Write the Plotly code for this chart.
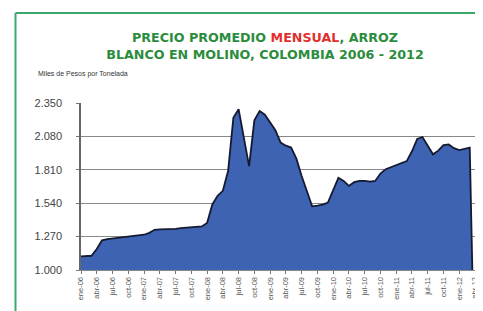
import plotly.graph_objects as go

months = ["ene", "feb", "mar", "abr", "may", "jun", "jul", "ago", "sep", "oct", "nov", "dic"]
categories = [f"{m}-{y:02d}" for y in range(6, 13) for m in months][:76]

prices = [
    1110, 1110, 1115, 1170, 1240, 1250, 1255, 1265, 1270, 1275, 1278, 1280,   # 2006
    1285, 1300, 1325, 1328, 1328, 1330, 1333, 1338, 1342, 1345, 1350, 1352,   # 2007
    1380, 1530, 1600, 1640, 1800, 2230, 2300, 2080, 1840, 2210, 2285, 2255,   # 2008
    2190, 2130, 2030, 2005, 1990, 1900, 1760, 1640, 1515, 1520, 1528, 1545,   # 2009
    1650, 1745, 1720, 1680, 1710, 1720, 1720, 1715, 1720, 1780, 1815, 1830,   # 2010
    1845, 1860, 1880, 1960, 2060, 2075, 2010, 1935, 1965, 2010, 2015, 1985,   # 2011
    1970, 1980, 1990, 0,                                                      # 2012
]

tick_labels = categories[::3]
y_ticks = [1000, 1270, 1540, 1810, 2080, 2350]
y_tick_text = ["1.000", "1.270", "1.540", "1.810", "2.080", "2.350"]

fig = go.Figure()
fig.add_trace(go.Scatter(
    x=categories, y=prices, mode="lines",
    fill="tozeroy", fillcolor="#3d63b2",
    line=dict(color="#141a30", width=1.8),
    hoverinfo="skip", showlegend=False,
))

W, H = 483, 311
L, R, T, B = 73, 470, 95, 262

fig.update_layout(
    width=W, height=H,
    margin=dict(l=L, r=W - R, t=T, b=H - B, pad=0),
    paper_bgcolor="white", plot_bgcolor="white",
    font=dict(family="Liberation Sans, Arial, sans-serif", color="#333"),
    showlegend=False,
    title=dict(
        text=("PRECIO PROMEDIO <span style='color:#e0302e'>MENSUAL</span>, ARROZ"
              "<br>BLANCO EN MOLINO, COLOMBIA 2006 - 2012"),
        x=257 / W, xanchor="center", xref="container",
        y=1 - 34 / H, yanchor="middle", yref="container",
        font=dict(size=12.7, color="#2b8c3c", weight="bold",
                  family="DejaVu Sans, Arial, sans-serif"),
    ),
    xaxis=dict(
        type="category",
        range=[0, len(categories) - 1],
        tickmode="array", tickvals=tick_labels, ticktext=tick_labels,
        tickangle=-90, tickfont=dict(size=7.5, color="#555"),
        ticks="outside", ticklen=3, tickcolor="#777",
        showgrid=False, showline=True, linecolor="#888", linewidth=1,
        zeroline=False,
    ),
    yaxis=dict(
        range=[1000, 2350],
        tickmode="array", tickvals=y_ticks, ticktext=y_tick_text,
        tickfont=dict(size=11, color="#444"),
        ticks="outside", ticklen=3, tickcolor="#777",
        ticklabelstandoff=12,
        showgrid=True, gridcolor="#888888", gridwidth=1.3,
        showline=True, linecolor="#666", linewidth=1.5,
        zeroline=False,
    ),
    shapes=[
        dict(type="line", xref="paper", yref="paper",
             x0=(7 - L) / (R - L), x1=(W + 5 - L) / (R - L),
             y0=(B - 5) / (B - T), y1=(B - 5) / (B - T),
             line=dict(color="#3aa86a", width=2)),
        dict(type="line", xref="paper", yref="paper",
             x0=(7 - L) / (R - L), x1=(7 - L) / (R - L),
             y0=(B - 5) / (B - T), y1=(B - H - 5) / (B - T),
             line=dict(color="#3aa86a", width=2)),
    ],
    annotations=[
        dict(text="Miles de Pesos por Tonelada", xref="paper", yref="paper",
             x=(28 - L) / (R - L), y=(B - 66) / (B - T),
             xanchor="left", yanchor="middle", showarrow=False,
             font=dict(size=7, color="#333")),
    ],
)

fig.write_html("out.html")
